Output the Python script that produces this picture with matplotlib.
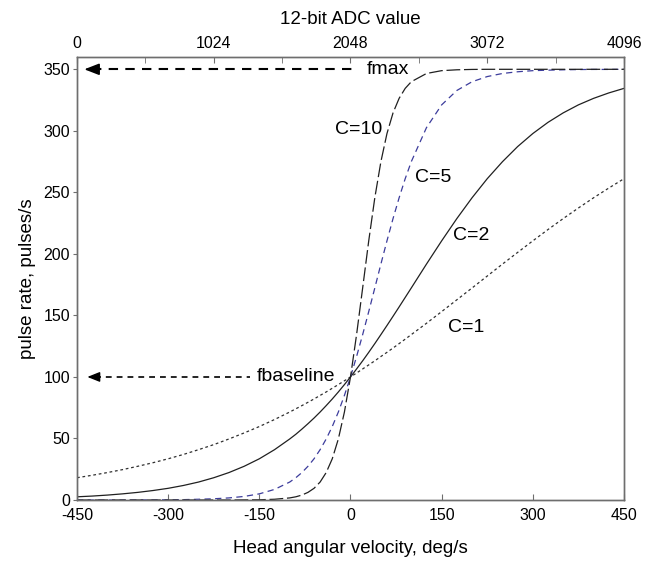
import numpy as np
import matplotlib
matplotlib.use('Agg')
import matplotlib.pyplot as plt

plt.rcParams['font.family'] = ['Liberation Sans', 'DejaVu Sans']

# head angular velocity samples, deg/s
velocity = [-450, -425, -400, -375, -350, -325, -300, -275, -250, -225,
            -200, -175, -150, -125, -100,
            -90, -80, -70, -60, -50, -40, -30, -20, -10, 0,
            10, 20, 30, 40, 50, 60, 70, 80, 90, 100,
            125, 150, 175, 200, 225, 250, 275, 300, 325, 350,
            375, 400, 425, 450]

# pulse rate, pulses/s
rate_c1 = [18.1, 20.1, 22.3, 24.7, 27.4, 30.3, 33.5, 37.0, 40.9, 45.0,
           49.6, 54.5, 59.7, 65.4, 71.5,
           74.1, 76.7, 79.4, 82.1, 85.0, 87.8, 90.8, 93.8, 96.9, 100.0,
           103.2, 106.5, 109.8, 113.1, 116.6, 120.0, 123.5, 127.1, 130.7, 134.4,
           143.6, 153.1, 162.7, 172.3, 182.0, 191.7, 201.2, 210.6, 219.8, 228.7,
           237.3, 245.6, 253.5, 261.1]
rate_c2 = [2.6, 3.2, 4.0, 5.0, 6.2, 7.7, 9.5, 11.8, 14.6, 18.1,
           22.3, 27.4, 33.5, 40.9, 49.6,
           53.4, 57.6, 62.0, 66.6, 71.5, 76.7, 82.1, 87.8, 93.8, 100.0,
           106.5, 113.1, 120.0, 127.1, 134.4, 141.8, 149.3, 156.9, 164.6, 172.3,
           191.7, 210.6, 228.7, 245.6, 261.1, 274.9, 287.2, 297.8, 306.9, 314.6,
           321.1, 326.4, 330.8, 334.5]
rate_c5 = [0.0, 0.0, 0.0, 0.0, 0.1, 0.1, 0.2, 0.3, 0.6, 1.0,
           1.7, 2.9, 5.0, 8.6, 14.6,
           18.1, 22.3, 27.4, 33.5, 40.9, 49.6, 59.7, 71.5, 85.0, 100.0,
           116.6, 134.4, 153.1, 172.3, 191.7, 210.6, 228.7, 245.6, 261.1, 274.9,
           302.6, 321.1, 332.8, 339.9, 344.1, 346.6, 348.0, 348.9, 349.3, 349.6,
           349.8, 349.9, 349.9, 350.0]
rate_c10 = [0.0, 0.0, 0.0, 0.0, 0.0, 0.0, 0.0, 0.0, 0.0, 0.0,
            0.0, 0.1, 0.2, 0.6, 1.7,
            2.6, 4.0, 6.2, 9.5, 14.6, 22.3, 33.5, 49.6, 71.5, 100.0,
            134.4, 172.3, 210.6, 245.6, 274.9, 297.8, 314.6, 326.4, 334.5, 339.9,
            346.6, 348.9, 349.6, 349.9, 350.0, 350.0, 350.0, 350.0, 350.0, 350.0,
            350.0, 350.0, 350.0, 350.0]

f_max = 350
f_baseline = 100

x_ticks = [-450, -300, -150, 0, 150, 300, 450]
y_ticks = [0, 50, 100, 150, 200, 250, 300, 350]
adc_ticks = [0, 1024, 2048, 3072, 4096]

fig = plt.figure(figsize=(6.51, 5.70), dpi=100)
ax = fig.add_axes([0.1183, 0.1228, 0.8402, 0.7772])

spine_col = '#6e6e6e'

ax.plot(velocity, rate_c1, color='#303030', lw=0.9, dashes=(2.2, 2.2))
ax.plot(velocity, rate_c2, color='#202020', lw=0.9)
ax.plot(velocity, rate_c5, color='#3c3c9c', lw=0.9, dashes=(5, 3.5))
ax.plot(velocity, rate_c10, color='#202020', lw=0.9, dashes=(11, 3))

# fmax / fbaseline dashed arrows
ax.plot([-425, 7], [f_max, f_max], color='black', lw=1.5, dashes=(4.5, 3.5))
ax.annotate('', xy=(-438, f_max), xytext=(-415, f_max),
            arrowprops=dict(arrowstyle='-|>,head_length=0.9,head_width=0.35',
                            color='black', lw=1.2, shrinkA=0, shrinkB=0))
ax.text(27, f_max, 'fmax', fontsize=14, ha='left', va='center')

ax.plot([-420, -165], [f_baseline, f_baseline], color='black', lw=1.2, dashes=(3.5, 3))
ax.annotate('', xy=(-433, f_baseline), xytext=(-412, f_baseline),
            arrowprops=dict(arrowstyle='-|>,head_length=0.75,head_width=0.3',
                            color='black', lw=1.0, shrinkA=0, shrinkB=0))
ax.text(-154, f_baseline, 'fbaseline', fontsize=14, ha='left', va='center')

ax.text(-26, 301, 'C=10', fontsize=14, ha='left', va='center')
ax.text(106, 262, 'C=5', fontsize=14, ha='left', va='center')
ax.text(168, 215, 'C=2', fontsize=14, ha='left', va='center')
ax.text(160, 140, 'C=1', fontsize=14, ha='left', va='center')

ax.set_xlim(-450, 450)
ax.set_ylim(0, 360)
ax.set_xticks(x_ticks)
ax.set_xticklabels([str(t) for t in x_ticks])
ax.set_yticks(y_ticks)
ax.tick_params(axis='x', direction='in', length=4, color=spine_col, labelsize=11.5, pad=6)
ax.tick_params(axis='y', direction='out', length=3, color=spine_col, labelsize=11.5, pad=2)
ax.set_xlabel('Head angular velocity, deg/s', fontsize=13.5, labelpad=12)
ax.set_ylabel('pulse rate, pulses/s', fontsize=13.5, labelpad=5)
for s in ax.spines.values():
    s.set_color(spine_col)
    s.set_linewidth(1.0)

top = ax.twiny()
top.set_xlim(0, 4096)
top.set_xticks(adc_ticks)
top.set_xticks([512, 1536, 2560, 3584], minor=True)
top.tick_params(axis='x', which='both', direction='in', length=4, color=spine_col,
                labelsize=11.5, pad=4)
top.set_xlabel('12-bit ADC value', fontsize=13.5, labelpad=9)
for s in top.spines.values():
    s.set_color(spine_col)
    s.set_linewidth(1.0)

fig.savefig('out.png', dpi=100)
